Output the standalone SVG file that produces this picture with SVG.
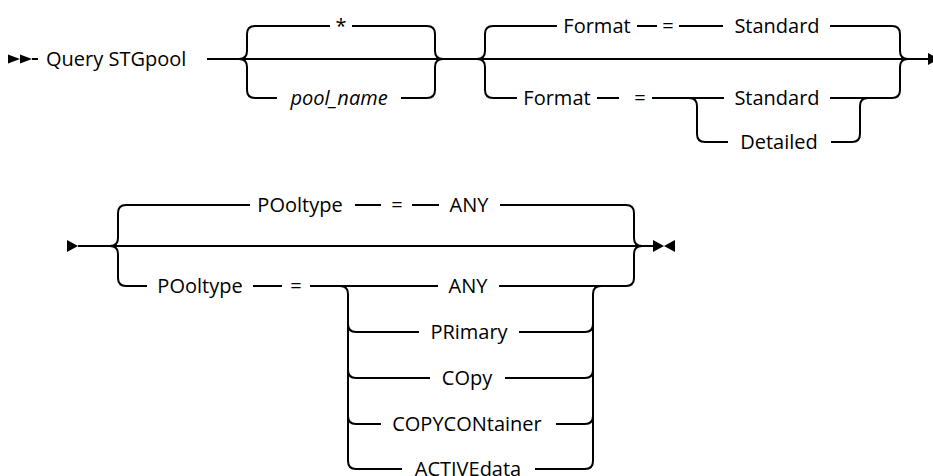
<svg xmlns="http://www.w3.org/2000/svg" width="933" height="476" viewBox="0 0 933 476">
<defs>
<style>
.t{font-family:"Open Sans","Liberation Sans",sans-serif;font-size:20px;font-weight:500;fill:#000}
.m{text-anchor:middle}
.i{font-style:italic}
.c{fill:none;stroke:#000;stroke-width:2}
.h{fill:#000}
</style>
</defs>
<rect width="933" height="476" fill="#fff"/>
<g id="connectors">
<!-- row 1 main line -->
<path class="c" d="M32,59 H38 M207,59 H928"/>
<!-- brace A -->
<path class="c" d="M255,26 Q247,26 247,34 V51 Q247,59 239,59 M255,98 Q247,98 247,90 V67 Q247,59 239,59"/>
<path class="c" d="M255,26 H330 M352,26 H427 M255,98 H277 M401,98 H427"/>
<path class="c" d="M427,26 Q435,26 435,34 V51 Q435,59 443,59 M427,98 Q435,98 435,90 V67 Q435,59 443,59"/>
<!-- brace B -->
<path class="c" d="M493,26 Q485,26 485,34 V51 Q485,59 477,59 M493,98 Q485,98 485,90 V67 Q485,59 477,59"/>
<path class="c" d="M493,26 H557 M637,26 H657 M679,26 H723 M830,26 H892"/>
<path class="c" d="M493,98 H517 M597,98 H619 M652,98 H724 M830,98 H892"/>
<path class="c" d="M892,26 Q900,26 900,34 V51 Q900,59 908,59 M892,98 Q900,98 900,90 V67 Q900,59 908,59"/>
<!-- sub brace C -->
<path class="c" d="M689,98 Q697,98 697,106 V134 Q697,142 705,142 H728 M831,142 H852 Q860,142 860,134 V106 Q860,98 868,98"/>
<!-- row 2 main line -->
<path class="c" d="M78,246 H653"/>
<!-- brace D -->
<path class="c" d="M126,205 Q118,205 118,213 V238 Q118,246 110,246 M126,286 Q118,286 118,278 V254 Q118,246 110,246"/>
<path class="c" d="M126,205 H250 M355,205 H381 M412,205 H439 M500,205 H626"/>
<path class="c" d="M126,286 H147 M253,286 H282 M310,286 H438 M499,286 H626"/>
<path class="c" d="M626,205 Q634,205 634,213 V238 Q634,246 642,246 M626,286 Q634,286 634,278 V254 Q634,246 642,246"/>
<!-- sub brace E -->
<path class="c" d="M340,286 Q348,286 348,294 V461 Q348,469 356,469 M348,324 Q348,332 356,332 M348,370 Q348,378 356,378 M348,416 Q348,424 356,424"/>
<path class="c" d="M585,469 Q593,469 593,461 V294 Q593,286 601,286 M585,332 Q593,332 593,324 M585,378 Q593,378 593,370 M585,424 Q593,424 593,416"/>
<path class="c" d="M356,332 H419 M519,332 H585 M356,378 H430 M505,378 H585 M356,424 H381 M556,424 H585 M356,469 H402 M535,469 H585"/>
</g>
<g id="start">
<path class="h" d="M8,54.5 L20,59 L8,63.5 Z M20,54.5 L32,59 L20,63.5 Z"/>
<text class="t" x="46" y="66">Query STGpool</text>
</g>
<g id="opt-star"><text class="t m" x="341" y="33">*</text></g>
<g id="opt-poolname"><text class="t m i" x="339" y="105">pool_name</text></g>
<g id="format-default">
<text class="t m" x="597" y="33">Format</text>
<text class="t m" x="668" y="33">=</text>
<text class="t m" x="777" y="33">Standard</text>
</g>
<g id="format-choice">
<text class="t m" x="557" y="105">Format</text>
<text class="t m" x="640" y="105">=</text>
<text class="t m" x="777" y="105">Standard</text>
<text class="t m" x="779" y="149">Detailed</text>
</g>
<g id="row1-end"><path class="h" d="M928,53 L939,59 L928,65 Z"/></g>
<g id="row2-start"><path class="h" d="M67,240 L78,246 L67,252 Z"/></g>
<g id="pooltype-default">
<text class="t m" x="300" y="212">POoltype</text>
<text class="t m" x="397" y="212">=</text>
<text class="t m" x="469" y="212">ANY</text>
</g>
<g id="pooltype-choice">
<text class="t m" x="200" y="293">POoltype</text>
<text class="t m" x="296" y="293">=</text>
<text class="t m" x="468" y="293">ANY</text>
<text class="t m" x="469" y="339">PRimary</text>
<text class="t m" x="467" y="385">COpy</text>
<text class="t m" x="467" y="431">COPYCONtainer</text>
<text class="t m" x="468" y="476">ACTIVEdata</text>
</g>
<g id="end"><path class="h" d="M653,240 L664,246 L653,252 Z M675,240 L664,246 L675,252 Z"/></g>
</svg>
